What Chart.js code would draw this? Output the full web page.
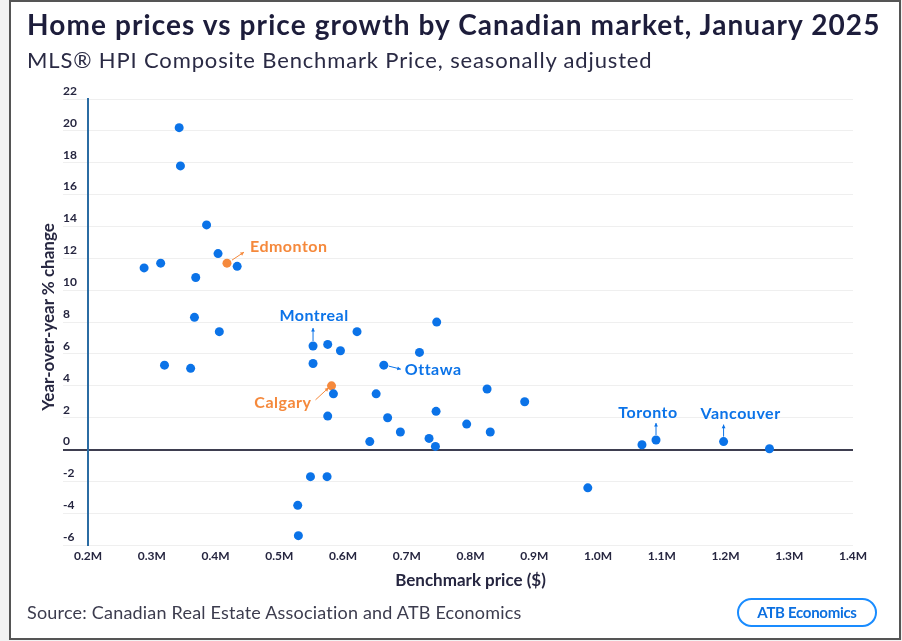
<!DOCTYPE html>
<html>
<head>
<meta charset="utf-8">
<script src="https://cdn.jsdelivr.net/npm/chart.js@4.4.0/dist/chart.umd.min.js"></script>
<style>
  html, body { margin: 0; padding: 0; background: #f3f3f3; }
  #frame { position: absolute; left: 9px; top: 0; width: 888px; height: 636px; border: 2px solid #555; background: #fff; }
  #chart { position: absolute; left: 0; top: 0; }
  .title { position: absolute; left: 27px; top: 7px; font: bold 28px Lato, sans-serif; letter-spacing: 1.1px; color: #1d1d3b; white-space: nowrap; }
  .subtitle { position: absolute; left: 27px; top: 46px; font: 22px Lato, sans-serif; letter-spacing: 0.85px; color: #2a2a44; white-space: nowrap; }
  .ytitle { position: absolute; left: -103px; top: 307px; width: 300px; height: 20px; line-height: 20px; text-align: center;
            transform: rotate(-90deg); font: bold 17px Lato, sans-serif; color: #262640; white-space: nowrap; }
  .source { position: absolute; left: 27px; top: 601px; font: 18px Lato, sans-serif; letter-spacing: 0.2px; color: #3c3c4e; white-space: nowrap; }
  .logo { position: absolute; left: 737px; top: 598px; width: 136px; height: 25px; border: 2px solid #1a8cff; border-radius: 15px;
          font: bold 15px Lato, sans-serif; color: #0b6fe0; text-align: center; line-height: 25px; letter-spacing: -0.3px; }
</style>
</head>
<body>
<div id="frame"></div>
<canvas id="chart" width="902" height="641"></canvas>
<div class="title">Home prices vs price growth by Canadian market, January 2025</div>
<div class="subtitle">MLS® HPI Composite Benchmark Price, seasonally adjusted</div>
<div class="ytitle">Year-over-year % change</div>
<div class="source">Source: Canadian Real Estate Association and ATB Economics</div>
<div class="logo">ATB Economics</div>
<script>
// benchmark price ($) and year-over-year % change, one entry per market
const prices = [343000, 345000, 386000, 404000, 418000, 434000, 314000, 288000, 369000, 367000,
                406000, 320000, 361000, 553000, 576000, 596000, 622000, 553000, 664000, 720000,
                747000, 582000, 585000, 652000, 576000, 670000, 690000, 642000, 735000, 745000,
                746000, 826000, 794000, 831000, 885000, 1069000, 1091000, 1197000, 1269000, 984000,
                549000, 575000, 529000, 530000];
const growth = [20.2, 17.8, 14.1, 12.3, 11.7, 11.5, 11.7, 11.4, 10.8, 8.3,
                7.4, 5.3, 5.1, 6.5, 6.6, 6.2, 7.4, 5.4, 5.3, 6.1,
                8.0, 4.0, 3.5, 3.5, 2.1, 2.0, 1.1, 0.5, 0.7, 0.2,
                2.4, 3.8, 1.6, 1.1, 3.0, 0.3, 0.6, 0.5, 0.05, -2.4,
                -1.7, -1.7, -3.5, -5.4];
const markets = ['', '', '', '', 'Edmonton', '', '', '', '', '',
                 '', '', '', 'Montreal', '', '', '', '', 'Ottawa', '',
                 '', 'Calgary', '', '', '', '', '', '', '', '',
                 '', '', '', '', '', '', 'Toronto', 'Vancouver', '', '',
                 '', '', '', ''];
const highlight = ['Edmonton', 'Calgary'];
const xTickLabels = ['0.2M', '0.3M', '0.4M', '0.5M', '0.6M', '0.7M', '0.8M', '0.9M', '1.0M', '1.1M', '1.2M', '1.3M', '1.4M'];
const yTickLabels = ['-6', '-4', '-2', '0', '2', '4', '6', '8', '10', '12', '14', '16', '18', '20', '22'];

const blue = '#0b73e8';
const orange = '#f5893c';
const ink = '#262640';

// label placement relative to the point (text offset, arrow start/end)
const labelStyle = {
  Edmonton:  { dx: 23, dy: -16, align: 'left',   arrow: [5, -3, 17, -11] },
  Montreal:  { dx: 1,  dy: -30, align: 'center', arrow: [0, -5, 0, -18] },
  Ottawa:    { dx: 21, dy: 5,   align: 'left',   arrow: [5, 1, 17, 4] },
  Calgary:   { dx: -20, dy: 17, align: 'right',  arrow: [-16, 14, -3, 2] },
  Toronto:   { dx: -8, dy: -27, align: 'center', arrow: [0, -5, 0, -17] },
  Vancouver: { dx: 17, dy: -28, align: 'center', arrow: [0, -5, 0, -17] }
};

function drawArrow(ctx, x1, y1, x2, y2) {
  const a = Math.atan2(y2 - y1, x2 - x1);
  ctx.beginPath();
  ctx.moveTo(x1, y1);
  ctx.lineTo(x2, y2);
  ctx.stroke();
  ctx.beginPath();
  ctx.moveTo(x2, y2);
  ctx.lineTo(x2 - 4 * Math.cos(a - 0.5), y2 - 4 * Math.sin(a - 0.5));
  ctx.lineTo(x2 - 4 * Math.cos(a + 0.5), y2 - 4 * Math.sin(a + 0.5));
  ctx.closePath();
  ctx.fill();
}

const marketLabels = {
  id: 'marketLabels',
  afterDatasetsDraw(chart) {
    const ctx = chart.ctx;
    const meta = chart.getDatasetMeta(0);
    ctx.save();
    ctx.font = 'bold 16px Lato, sans-serif';
    ctx.letterSpacing = '0.5px';
    ctx.textBaseline = 'middle';
    ctx.lineWidth = 1;
    markets.forEach((name, i) => {
      if (!name) return;
      const pt = meta.data[i];
      const s = labelStyle[name];
      const c = highlight.includes(name) ? orange : blue;
      ctx.fillStyle = c;
      ctx.strokeStyle = c;
      ctx.textAlign = s.align;
      ctx.fillText(name, pt.x + s.dx, pt.y + s.dy);
      drawArrow(ctx, pt.x + s.arrow[0], pt.y + s.arrow[1], pt.x + s.arrow[2], pt.y + s.arrow[3]);
    });
    ctx.restore();
  }
};

new Chart(document.getElementById('chart'), {
  type: 'scatter',
  data: {
    datasets: [{
      label: 'Markets',
      data: prices.map((p, i) => ({ x: p, y: growth[i] })),
      pointRadius: 4.5,
      pointHoverRadius: 4.5,
      pointBorderWidth: 0,
      pointBackgroundColor: markets.map(m => highlight.includes(m) ? orange : blue)
    }]
  },
  options: {
    responsive: false,
    animation: false,
    layout: { padding: { left: 63, right: 49, top: 99, bottom: 50 } },
    plugins: {
      legend: { display: false },
      tooltip: { enabled: false }
    },
    scales: {
      x: {
        type: 'linear',
        min: 200000,
        max: 1400000,
        ticks: {
          stepSize: 100000,
          padding: 4,
          color: ink,
          font: { family: 'Lato', size: 12, weight: 'bold' },
          callback: (v, i) => xTickLabels[i]
        },
        grid: { display: false, drawTicks: false },
        border: { display: false },
        title: {
          display: true,
          text: 'Benchmark price ($)',
          color: ink,
          font: { family: 'Lato', size: 17, weight: 'bold' },
          padding: { top: 3, bottom: 0 }
        }
      },
      y: {
        min: -6,
        max: 22,
        afterFit: s => { s.width = 25; },
        ticks: {
          stepSize: 2,
          crossAlign: 'far',
          padding: 0,
          labelOffset: -8,
          color: ink,
          font: { family: 'Lato', size: 12, weight: 'bold' },
          callback: (v, i) => yTickLabels[i]
        },
        grid: {
          tickLength: 25,
          color: c => c.tick && c.tick.value === 0 ? '#3e3e50' : '#efefef',
          lineWidth: c => c.tick && c.tick.value === 0 ? 2 : 1
        },
        border: { display: true, color: '#2b6ca3', width: 2 },
        title: { display: false }
      }
    }
  },
  plugins: [marketLabels]
});
</script>
</body>
</html>
